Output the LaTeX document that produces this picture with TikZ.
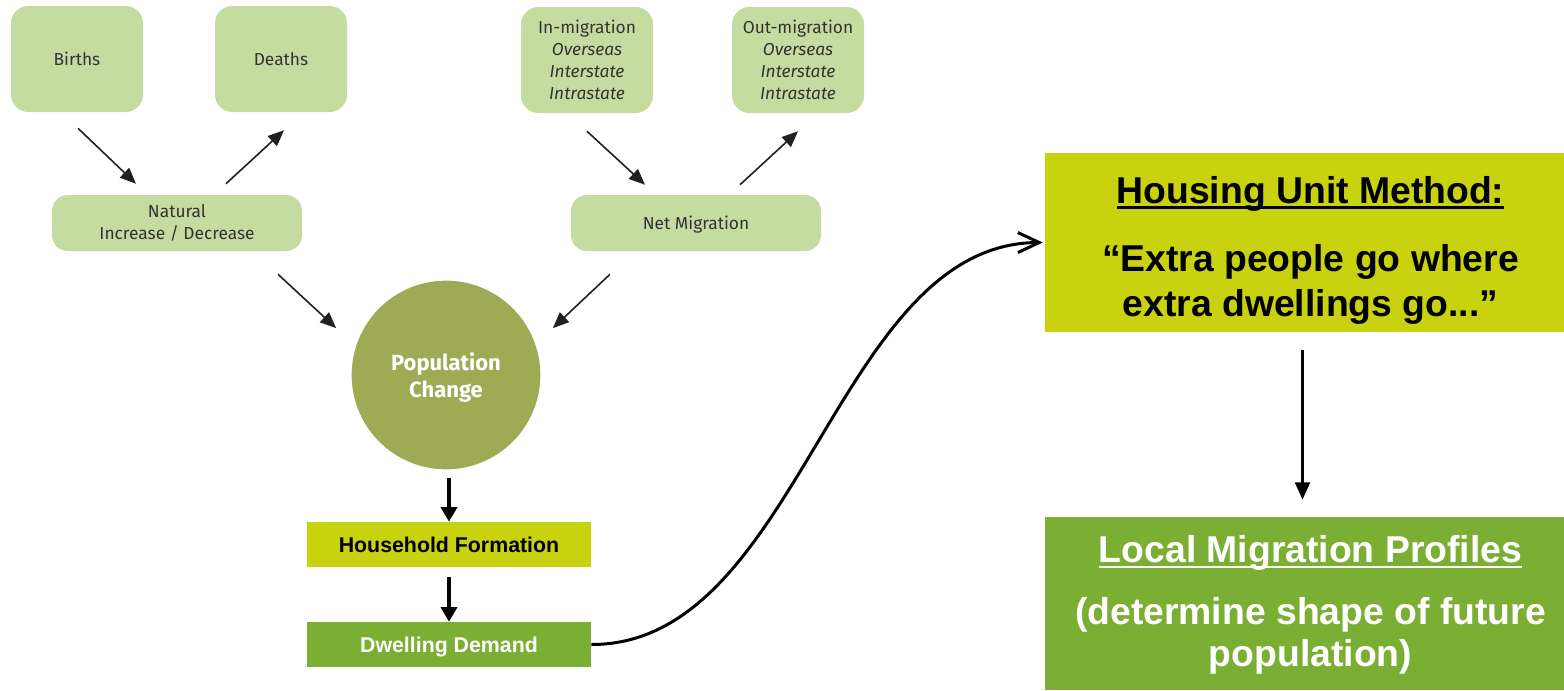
\documentclass[tikz,border=0pt]{standalone}
\usepackage{fontspec}
\setmainfont{Liberation Sans}
\newfontfamily\dinfont{Fira Sans}
\usetikzlibrary{arrows.meta}
\definecolor{leaf}{HTML}{C5DCA1}
\definecolor{olive}{HTML}{9FAA55}
\definecolor{lime}{HTML}{C8D20F}
\definecolor{grass}{HTML}{7BAF33}
\definecolor{ink}{HTML}{333333}
\definecolor{dark}{HTML}{231F20}
\newsavebox\ulsave
\newcommand{\ulbar}[1]{\sbox\ulsave{#1}\rlap{\rule[-4pt]{\wd\ulsave}{1.9pt}}\usebox\ulsave}

\begin{document}
\begin{tikzpicture}[x=0.75pt,y=-0.75pt,
  src/.style={fill=leaf,rounded corners=13pt,minimum width=99pt,minimum height=79.5pt,
    inner sep=0pt,align=center,text=ink,font=\dinfont\fontsize{13}{16.5}\selectfont},
  sum/.style={src,rounded corners=12pt,minimum width=187.5pt,minimum height=42pt},
  band/.style={minimum width=213pt,minimum height=33.75pt,inner sep=0pt,text depth=0pt,
    font=\bfseries\fontsize{16}{18}\selectfont},
  big/.style={minimum width=398.25pt,inner sep=0pt,align=center},
  thin/.style={-{Triangle[length=12pt,width=10pt]},line width=1.2pt,draw=dark},
  fat/.style={-{Triangle[length=11pt,width=12pt]},line width=3pt},
  mid/.style={-{Triangle[length=13pt,width=11pt]},line width=2.25pt}]

\useasboundingbox (0,0) rectangle (1564,690);

\node[src] (bir) at (77,59) {Births};
\node[src] (dea) at (281,59) {Deaths};
\node[src] (imig) at (587,60) {In-migration\\\textit{Overseas}\\\textit{Interstate}\\\textit{Intrastate}};
\node[src] (omig) at (798,60) {Out-migration\\\textit{Overseas}\\\textit{Interstate}\\\textit{Intrastate}};

\node[sum] (nat) at (177,223) {Natural\\Increase / Decrease};
\node[sum,text depth=0pt] (net) at (696,223) {Net Migration};

\node[circle,fill=olive,minimum size=141.5pt,inner sep=0pt,align=center,text=white,text depth=0pt,
  font=\dinfont\bfseries\fontsize{16.5}{20.5}\selectfont] (pop) at (446,375) {Population\\Change};

\node[band,fill=lime] (hou) at (449,544.5) {Household Formation};
\node[band,fill=grass,text=white] (dwe) at (449,644.5) {Dwelling Demand};

\node[big,fill=lime,minimum height=134.25pt,font=\bfseries\fontsize{28}{34}\selectfont] (hum) at (1310.5,242.5)
  {\rule{0pt}{32pt}\ulbar{Housing Unit Method:}\\[17pt]“Extra people go where\\extra dwellings go...”};
\node[big,fill=grass,text=white,minimum height=129.75pt,font=\bfseries\fontsize{28}{31.5}\selectfont] (lmp) at (1310.5,603.5)
  {\rule{0pt}{23pt}\ulbar{Local Migration Profiles}\\[15pt](determine shape of future\\population)};

% top arrows
\draw[thin] ([shift={(1,16)}]bir.south) -- ([shift={(-41,-11)}]nat.north);
\draw[thin] ([shift={(49,-11)}]nat.north) -- ([shift={(3,18)}]dea.south);
\draw[thin] ([shift={(0,18)}]imig.south) -- ([shift={(-51,-10)}]net.north);
\draw[thin] ([shift={(44,-10)}]net.north) -- ([shift={(0,18)}]omig.south);
\draw[thin] ([shift={(101,23)}]nat.south) -- ([shift={(-43,20)}]pop.135);
\draw[thin] ([shift={(-86,23)}]net.south) -- ([shift={(40,20)}]pop.45);

\draw[fat] ([shift={(3,8)}]pop.south) -- (hou.north);
\draw[fat] ([shift={(0,10)}]hou.south) -- (dwe.north);

\draw[-{Straight Barb[length=16pt,width=15pt]},line width=2.25pt]
  (dwe.east) .. controls (800,645) and (835,243) .. ([shift={(-2,0)}]hum.west);

\draw[mid] ([shift={(-8,18)}]hum.south) -- ([shift={(-8,-17)}]lmp.north);

\end{tikzpicture}
\end{document}
